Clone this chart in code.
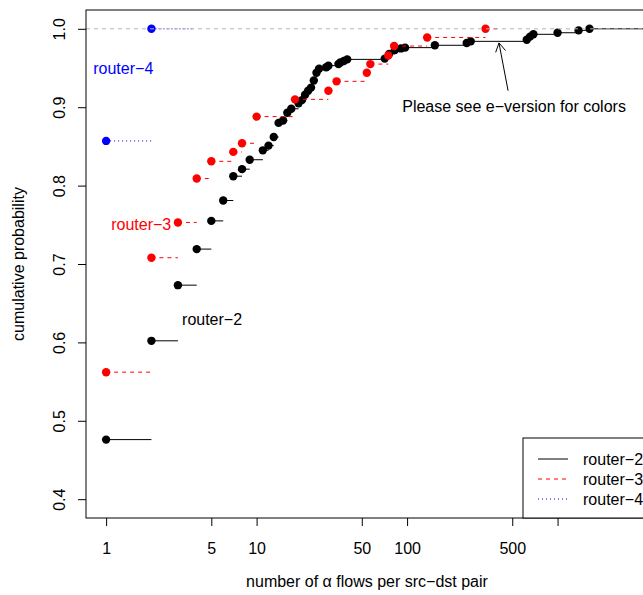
<!DOCTYPE html>
<html>
<head>
<meta charset="utf-8">
<script src="https://cdn.jsdelivr.net/npm/d3@7"></script>
<style>
  body { margin: 0; background: #fff; overflow: hidden; }
  svg { display: block; font-family: 'Liberation Sans', Arial, Helvetica, sans-serif; }
</style>
</head>
<body>
<div id="chart"></div>
<script>
// ecdf values (x = flows per pair, y = cumulative probability)
const router2X = [1, 2, 3, 4, 5, 6, 7, 8, 9, 11, 12, 13, 14, 15, 16, 17, 19, 20, 21, 22, 23, 24, 25, 26,
  29, 30, 35, 36, 38, 40, 71, 76, 83, 91, 97, 153, 249, 265, 624, 656, 691, 1000, 1380, 1630]
const router2Y = [0.476, 0.602, 0.673, 0.719, 0.755, 0.781, 0.812, 0.821, 0.833, 0.845, 0.851, 0.862,
  0.880, 0.883, 0.893, 0.898, 0.905, 0.909, 0.916, 0.921, 0.925, 0.934, 0.944, 0.949,
  0.951, 0.953, 0.955, 0.957, 0.959, 0.961, 0.962, 0.968, 0.973, 0.975, 0.976, 0.979,
  0.982, 0.984, 0.986, 0.990, 0.993, 0.995, 0.998, 1.0]

const router3X = [1, 2, 3, 4, 5, 7, 8, 10, 18, 30, 34, 54, 57, 75, 82, 136, 332]
const router3Y = [0.562, 0.708, 0.753, 0.809, 0.831, 0.843, 0.854, 0.888, 0.910, 0.921, 0.933,
  0.944, 0.955, 0.966, 0.978, 0.989, 1.0]

const router4X = [1, 2]
const router4Y = [0.857, 1.0]

const seriesNames = ['router\u22122', 'router\u22123', 'router\u22124']
const seriesEnds = [10000, 396, 3.9]
const seriesColors = ['#000000', '#ff0000', '#0000ff']
const seriesDash = [null, '4,4', '1,3']

// in-plot labels, in data units
const labelX = [5.06, 1.71, 1.3]
const labelY = [0.629, 0.75, 0.949]

const xTickValues = [1, 5, 10, 50, 100, 500, 1000]
const xTickLabels = ['1', '5', '10', '50', '100', '500', '']
const yTickValues = [0.4, 0.5, 0.6, 0.7, 0.8, 0.9, 1.0]

const noteText = 'Please see e\u2212version for colors'
const notePos = [514, 0.9005]
const arrowFrom = [469, 0.921]
const arrowTo = [408, 0.982]

let margin = { top: 10, left: 86, right: 0, bottom: 77 }
let width = 648 - margin.left
let height = 518 - margin.top

const svg = d3
  .select('#chart')
  .append('svg')
  .attr('width', 643)
  .attr('height', 595)
  .append('g')
  .attr('transform', 'translate(' + margin.left + ',' + margin.top + ')')

var xPositionScale = d3
  .scaleLog()
  .domain([0.735, 3990])
  .range([0, width])

var yPositionScale = d3
  .scaleLinear()
  .domain([0.376, 1.024])
  .range([height, 0])

svg
  .append('clipPath')
  .attr('id', 'plot-clip')
  .append('rect')
  .attr('width', width)
  .attr('height', height)

const plot = svg.append('g').attr('clip-path', 'url(#plot-clip)')

const series = [
  { xs: router2X, ys: router2Y },
  { xs: router3X, ys: router3Y },
  { xs: router4X, ys: router4Y }
].map((s, i) =>
  s.xs.map((x, j) => ({
    x: x,
    y: s.ys[j],
    next: j < s.xs.length - 1 ? s.xs[j + 1] : seriesEnds[i]
  }))
)

series.forEach((pts, i) => {
  const g = plot.append('g')
  g.selectAll('.step')
    .data(pts)
    .enter()
    .append('line')
    .attr('class', 'step')
    .attr('x1', d => xPositionScale(d.x))
    .attr('x2', d => xPositionScale(d.next))
    .attr('y1', d => yPositionScale(d.y))
    .attr('y2', d => yPositionScale(d.y))
    .attr('stroke', seriesColors[i])
    .attr('stroke-width', 1)
    .attr('stroke-dasharray', seriesDash[i])
  g.selectAll('.pt')
    .data(pts)
    .enter()
    .append('circle')
    .attr('class', 'pt')
    .attr('cx', d => xPositionScale(d.x))
    .attr('cy', d => yPositionScale(d.y))
    .attr('r', 4.2)
    .attr('fill', seriesColors[i])
})

// gray dashed line at probability 1
plot
  .append('line')
  .attr('x1', 0)
  .attr('x2', width)
  .attr('y1', yPositionScale(1))
  .attr('y2', yPositionScale(1))
  .attr('stroke', '#b3b3b3')
  .attr('stroke-dasharray', '4,4')

// series labels
svg
  .selectAll('.series-label')
  .data(seriesNames)
  .enter()
  .append('text')
  .attr('class', 'series-label')
  .attr('x', (d, i) => xPositionScale(labelX[i]))
  .attr('y', (d, i) => yPositionScale(labelY[i]))
  .attr('dy', '0.35em')
  .attr('text-anchor', 'middle')
  .attr('font-size', 16)
  .attr('fill', (d, i) => seriesColors[i])
  .text(d => d)

// note + arrow
svg
  .append('text')
  .attr('x', xPositionScale(notePos[0]))
  .attr('y', yPositionScale(notePos[1]))
  .attr('dy', '0.35em')
  .attr('text-anchor', 'middle')
  .attr('font-size', 16)
  .text(noteText)

const ax1 = xPositionScale(arrowFrom[0])
const ay1 = yPositionScale(arrowFrom[1])
const ax2 = xPositionScale(arrowTo[0])
const ay2 = yPositionScale(arrowTo[1])
const ang = Math.atan2(ay2 - ay1, ax2 - ax1)
const headLen = 10
svg
  .append('path')
  .attr('d',
    'M' + ax1 + ',' + ay1 + 'L' + ax2 + ',' + ay2 +
    'M' + (ax2 - headLen * Math.cos(ang - Math.PI / 6)) + ',' + (ay2 - headLen * Math.sin(ang - Math.PI / 6)) +
    'L' + ax2 + ',' + ay2 +
    'L' + (ax2 - headLen * Math.cos(ang + Math.PI / 6)) + ',' + (ay2 - headLen * Math.sin(ang + Math.PI / 6)))
  .attr('fill', 'none')
  .attr('stroke', '#000')
  .attr('stroke-width', 1)

// axes
const xAxis = d3
  .axisBottom(xPositionScale)
  .tickValues(xTickValues)
  .tickFormat((d, i) => xTickLabels[i])
  .tickSize(8)
  .tickPadding(17)
svg
  .append('g')
  .attr('class', 'x-axis')
  .attr('transform', 'translate(0,' + height + ')')
  .call(xAxis)
  .call(g => g.select('.domain').remove())

const yAxis = d3
  .axisLeft(yPositionScale)
  .tickValues(yTickValues)
  .tickFormat(d3.format('.1f'))
  .tickSize(8)
svg
  .append('g')
  .attr('class', 'y-axis')
  .call(yAxis)
  .call(g => g.select('.domain').remove())
  .call(g =>
    g.selectAll('text')
      .attr('transform', 'rotate(-90)')
      .attr('x', 0)
      .attr('y', -27)
      .attr('dy', '0.35em')
      .attr('text-anchor', 'middle')
  )

svg.selectAll('.tick text').attr('font-size', 16).attr('font-family', null).attr('fill', '#000')
svg.selectAll('.tick line').attr('stroke', '#000')

// plot box
svg
  .append('rect')
  .attr('width', width)
  .attr('height', height)
  .attr('fill', 'none')
  .attr('stroke', '#000')

// axis titles
svg
  .append('text')
  .attr('x', width / 2)
  .attr('y', height + 63)
  .attr('dy', '0.35em')
  .attr('text-anchor', 'middle')
  .attr('font-size', 16)
  .text('number of \u03b1 flows per src\u2212dst pair')

svg
  .append('text')
  .attr('transform', 'translate(' + (18 - margin.left) + ',' + height / 2 + ') rotate(-90)')
  .attr('dy', '0.35em')
  .attr('text-anchor', 'middle')
  .attr('font-size', 16)
  .text('cumulative probability')

// legend, bottom right
const legend = svg.append('g').attr('transform', 'translate(' + (width - 125) + ',' + (height - 80) + ')')
legend
  .append('rect')
  .attr('width', 125)
  .attr('height', 80)
  .attr('fill', '#fff')
  .attr('stroke', '#000')
const entries = legend
  .selectAll('.entry')
  .data(seriesNames)
  .enter()
  .append('g')
  .attr('class', 'entry')
  .attr('transform', (d, i) => 'translate(0,' + (21 + i * 20) + ')')
entries
  .append('line')
  .attr('x1', 15)
  .attr('x2', 45)
  .attr('stroke', (d, i) => seriesColors[i])
  .attr('stroke-dasharray', (d, i) => seriesDash[i])
entries
  .append('text')
  .attr('x', 60)
  .attr('dy', '0.35em')
  .attr('font-size', 16)
  .text(d => d)
</script>
</body>
</html>
